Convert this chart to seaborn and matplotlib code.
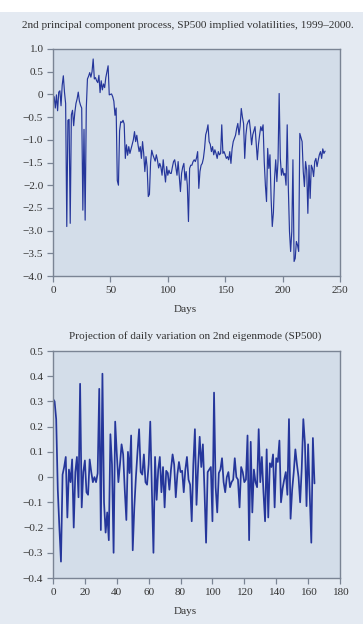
import numpy as np
import pandas as pd
import matplotlib
matplotlib.use("Agg")
import matplotlib.pyplot as plt
import seaborn as sns
from matplotlib.patches import Rectangle

# 2nd principal component process (daily, ~238 days)
pc2_level = [
    -0.20, -0.05, -0.30, -0.01, -0.36, 0.05, 0.08, -0.25, 0.20, 0.41,
    0.05, -0.20, -2.91, -0.57, -0.55, -2.84, -0.45, -0.35, -0.69, -0.40,
    -0.20, -0.10, 0.05, -0.15, -0.24, -0.30, -2.55, -0.77, -2.77, -0.30,
    0.34, 0.40, 0.48, 0.38, 0.50, 0.78, 0.34, 0.37, 0.30, 0.26,
    0.42, 0.04, 0.30, 0.10, 0.23, 0.15, 0.37, 0.50, 0.63, -0.01,
    0.00, 0.01, -0.05, -0.15, -0.46, -0.30, -1.90, -2.00, -0.80, -0.60,
    -0.62, -0.57, -0.65, -1.41, -1.11, -1.34, -1.15, -1.30, -1.20, -1.10,
    -1.00, -0.82, -1.04, -0.90, -1.10, -1.26, -1.15, -1.41, -1.04, -1.30,
    -1.70, -1.37, -1.60, -2.25, -2.20, -1.50, -1.23, -1.33, -1.40, -1.47,
    -1.33, -1.45, -1.62, -1.52, -1.60, -1.78, -1.44, -1.70, -1.93, -1.59,
    -1.78, -1.67, -1.74, -1.74, -1.60, -1.48, -1.44, -1.60, -1.78, -1.48,
    -1.80, -2.14, -1.74, -1.60, -1.52, -1.89, -1.70, -2.00, -2.80, -1.63,
    -1.56, -1.56, -1.48, -1.44, -1.48, -1.40, -1.26, -2.07, -1.70, -1.56,
    -1.52, -1.41, -1.20, -0.89, -0.80, -0.67, -1.04, -1.10, -1.26, -1.15,
    -1.33, -1.22, -1.30, -1.41, -1.26, -1.33, -1.30, -0.67, -1.30, -1.26,
    -1.33, -1.41, -1.37, -1.44, -1.26, -1.52, -1.20, -1.04, -0.97, -0.90,
    -0.75, -0.64, -0.89, -0.70, -0.31, -0.50, -0.64, -1.41, -0.90, -0.67,
    -0.60, -0.56, -0.80, -1.11, -0.89, -0.80, -0.71, -1.08, -1.44, -1.10,
    -0.89, -0.71, -0.80, -0.67, -1.48, -2.00, -2.36, -1.19, -1.63, -1.33,
    -2.30, -2.91, -2.60, -1.85, -1.44, -1.92, -1.48, 0.02, -1.40, -1.78,
    -1.63, -1.78, -1.74, -2.00, -0.67, -2.07, -3.02, -3.46, -3.02, -1.44,
    -3.68, -3.61, -3.24, -3.32, -3.46, -0.86, -0.95, -1.04, -1.70, -2.03,
    -1.48, -1.67, -2.62, -1.56, -2.29, -1.56, -1.63, -1.81, -1.48, -1.41,
    -1.59, -1.45, -1.33, -1.26, -1.41, -1.20, -1.30, -1.25,
]

# projection of daily variation on 2nd eigenmode (~165 days)
pc2_daily = [
    0.31, 0.30, 0.23, -0.05, -0.20, -0.335, 0.01, 0.04, 0.08, -0.16,
    0.03, -0.02, 0.07, -0.20, 0.02, 0.08, -0.08, 0.37, -0.12, 0.02,
    0.066, -0.06, -0.07, 0.07, 0.02, -0.02, 0.00, -0.02, 0.015, 0.35,
    -0.21, 0.41, -0.10, -0.22, -0.14, -0.25, 0.17, 0.05, -0.30, 0.22,
    0.095, -0.02, 0.05, 0.13, 0.09, -0.05, -0.17, 0.10, 0.016, 0.165,
    -0.29, -0.12, 0.00, 0.10, 0.19, 0.02, 0.01, 0.09, -0.02, -0.03,
    0.05, 0.22, -0.05, -0.30, 0.08, -0.09, 0.03, 0.08, -0.06, 0.04,
    -0.12, 0.025, 0.016, -0.05, 0.03, 0.09, 0.05, -0.08, 0.01, 0.06,
    0.02, 0.025, -0.06, 0.03, 0.08, -0.01, -0.03, -0.175, 0.05, 0.19,
    -0.11, 0.04, 0.16, 0.04, 0.13, -0.05, -0.26, 0.02, 0.03, 0.04,
    -0.175, 0.335, -0.04, -0.14, 0.016, 0.03, 0.075, -0.02, -0.06, 0.00,
    0.02, -0.04, -0.02, -0.01, 0.075, 0.00, -0.01, -0.12, 0.04, 0.02,
    -0.02, -0.01, 0.165, -0.25, 0.14, -0.14, 0.03, -0.02, -0.04, 0.19,
    -0.02, 0.08, -0.06, -0.175, 0.11, -0.16, 0.055, 0.04, 0.09, -0.12,
    0.075, 0.06, 0.145, -0.10, -0.045, -0.01, 0.02, -0.07, 0.23, -0.165,
    -0.05, 0.02, 0.11, 0.05, 0.00, -0.10, 0.035, 0.23, 0.135, -0.115,
    0.13, -0.065, -0.26, 0.155, -0.025,
]

top_yticks = [1.0, 0.5, 0, -0.5, -1.0, -1.5, -2.0, -2.5, -3.0, -3.5, -4.0]
top_xticks = [0, 50, 100, 150, 200, 250]
bot_yticks = [0.5, 0.4, 0.3, 0.2, 0.1, 0, -0.1, -0.2, -0.3, -0.4]
bot_xticks = [0, 20, 40, 60, 80, 100, 120, 140, 160, 180]

title_top = "2nd principal component process, SP500 implied volatilities, 1999\u20132000."
title_bot = "Projection of daily variation on 2nd eigenmode (SP500)"

sns.set_style("ticks")
plt.rcParams["font.family"] = ["Liberation Serif", "DejaVu Serif"]

LINE = "#25369b"
FIG_BG = "#e4eaf2"
AX_BG = "#d3dde9"
SPINE = "#7a8494"
TXT = "#333333"
FS = 8.1


def fmt(v):
    if v == 0:
        return "0"
    s = f"{v:.1f}"
    return s.replace("-", "\u2212")


def style_axes(ax, xticks, yticks):
    ax.set_facecolor(AX_BG)
    for sp in ax.spines.values():
        sp.set_color(SPINE)
        sp.set_linewidth(1.0)
    ax.set_xticks(xticks)
    ax.set_yticks(yticks)
    ax.set_xticklabels([str(t) for t in xticks])
    ax.set_yticklabels([fmt(t) for t in yticks])
    ax.set_xlim(xticks[0], xticks[-1])
    ax.set_ylim(min(yticks), max(yticks))
    ax.tick_params(direction="out", length=4, width=0.9, color=SPINE,
                   labelsize=FS, labelcolor=TXT, pad=3)
    ax.set_xlabel("")
    ax.set_ylabel("")


fig = plt.figure(figsize=(3.63, 6.24), dpi=100, facecolor=FIG_BG)
fig.patches.append(Rectangle((0, 1 - 12 / 624), 1, 12 / 624, transform=fig.transFigure,
                             facecolor="white", edgecolor="none", zorder=-1))

ax1 = fig.add_axes([53 / 363, 1 - 276 / 624, 287 / 363, 227 / 624])
df1 = pd.DataFrame({"day": np.arange(len(pc2_level)), "val": pc2_level})
sns.lineplot(data=df1, x="day", y="val", ax=ax1, color=LINE, linewidth=0.85)
style_axes(ax1, top_xticks, top_yticks)

ax2 = fig.add_axes([53 / 363, 1 - 578 / 624, 287 / 363, 227 / 624])
df2 = pd.DataFrame({"day": np.arange(len(pc2_daily)), "val": pc2_daily})
sns.lineplot(data=df2, x="day", y="val", ax=ax2, color=LINE, linewidth=1.25)
style_axes(ax2, bot_xticks, bot_yticks)

fig.text(188 / 363, 1 - 25 / 624, title_top, ha="center", va="center", fontsize=FS, color=TXT)
fig.text(195 / 363, 1 - 336 / 624, title_bot, ha="center", va="center", fontsize=FS, color=TXT)
fig.text(185 / 363, 1 - 309 / 624, "Days", ha="center", va="center", fontsize=FS, color=TXT)
fig.text(185 / 363, 1 - 612 / 624, "Days", ha="center", va="center", fontsize=FS, color=TXT)

fig.savefig("out.png", dpi=100, facecolor=FIG_BG)
